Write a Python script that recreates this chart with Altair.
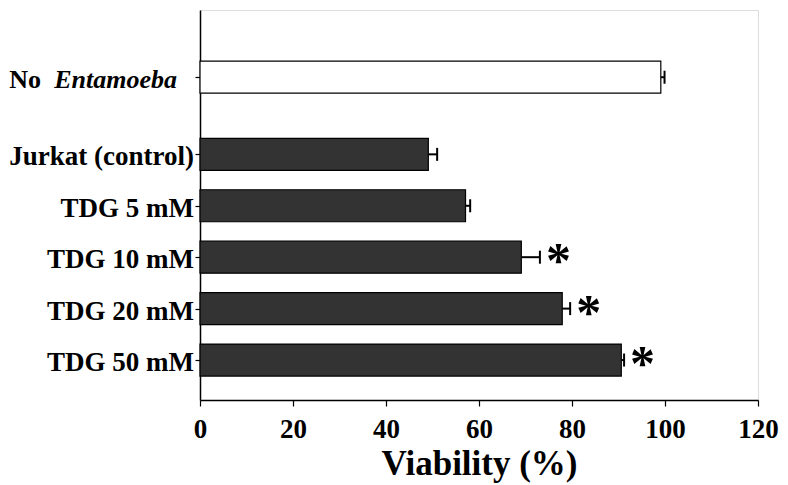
import altair as alt
import pandas as pd

# ---- data ----
labels = ["No Entamoeba", "Jurkat (control)", "TDG 5 mM", "TDG 10 mM", "TDG 20 mM", "TDG 50 mM"]
viability = [99.1, 49.1, 57.1, 69.1, 77.9, 90.6]
errors = [0.8, 1.9, 1.0, 4.0, 1.7, 0.6]
significant = [False, False, False, True, True, True]
condition = ["No Entamoeba", "infected", "infected", "infected", "infected", "infected"]
x_ticks = [0, 20, 40, 60, 80, 100, 120]

# row index; half a row of extra space separates the uninfected control
rows = [i + (0.5 if i > 0 else 0.0) for i in range(len(labels))]

df = pd.DataFrame({
    "label": labels,
    "value": viability,
    "err": errors,
    "star": ["*" if s else "" for s in significant],
    "condition": condition,
    "row": rows,
})
df["hi"] = df["value"] + df["err"]

FONT = "Liberation Serif"

base = alt.Chart(df)

yq = alt.Y(
    "row:Q",
    scale=alt.Scale(domain=[-1.21, 6.18], reverse=True, nice=False, zero=False),
    axis=alt.Axis(values=rows, labels=False, title=None, ticks=True, tickSize=5,
                  grid=False, domainColor="black", tickColor="black", domainWidth=1.5,
                  tickWidth=1.2),
)

xq = alt.X(
    "value:Q",
    scale=alt.Scale(domain=[0, 120], nice=False),
    axis=alt.Axis(values=x_ticks, title="Viability (%)", grid=False, tickSize=6,
                  labelFont=FONT, labelFontSize=27, labelFontWeight="bold", labelColor="black",
                  labelPadding=10, labelFlush=False, labelOverlap=False,
                  titleFont=FONT, titleFontSize=35, titleFontWeight="bold",
                  titleColor="black", titlePadding=4, domainColor="black", tickColor="black",
                  domainWidth=1.5, tickWidth=1.2),
)

bars = base.mark_bar(orient="horizontal", size=32, stroke="black", strokeWidth=1.2).encode(
    x=xq,
    y=yq,
    fill=alt.Fill("condition:N",
                  scale=alt.Scale(domain=["No Entamoeba", "infected"], range=["white", "#333333"]),
                  legend=None),
)

err_line = base.mark_rule(color="black", strokeWidth=2).encode(
    x="value:Q", x2="hi:Q", y="row:Q"
)
err_cap = base.mark_rule(color="black", strokeWidth=2, yOffset=-6.5, y2Offset=6.5).encode(
    x="hi:Q", y="row:Q", y2="row:Q"
)

stars = base.mark_text(font=FONT, fontSize=50, fontWeight="bold", align="center",
                       baseline="middle", dx=18.5, dy=5, color="black").encode(
    x="hi:Q", y="row:Q", text="star:N"
)

row_labels = base.transform_filter(alt.datum.condition != "No Entamoeba").mark_text(
    font=FONT, fontSize=27, fontWeight="bold", align="right", baseline="middle",
    color="black", dy=3
).encode(x=alt.value(-6), y="row:Q", text="label:N")

ctrl = base.transform_filter(alt.datum.condition == "No Entamoeba")
lab_no = ctrl.mark_text(font=FONT, fontSize=26, fontWeight="bold", align="right",
                        baseline="middle", color="black", dy=3).encode(
    x=alt.value(-159), y="row:Q", text=alt.value("No"))
lab_ent = ctrl.mark_text(font=FONT, fontSize=26, fontWeight="bold", fontStyle="italic",
                         align="right", baseline="middle", color="black", dy=3).encode(
    x=alt.value(-23), y="row:Q", text=alt.value("Entamoeba"))

chart = alt.layer(bars, err_line, err_cap, stars, row_labels, lab_no, lab_ent).properties(
    width=558, height=390,
    autosize=alt.AutoSizeParams(type="none"),
    padding={"left": 192, "top": 2, "right": 22, "bottom": 85},
).configure_view(stroke=None).configure(background="white")

chart.save("out.html", embed_options={"renderer": "svg", "actions": False})
